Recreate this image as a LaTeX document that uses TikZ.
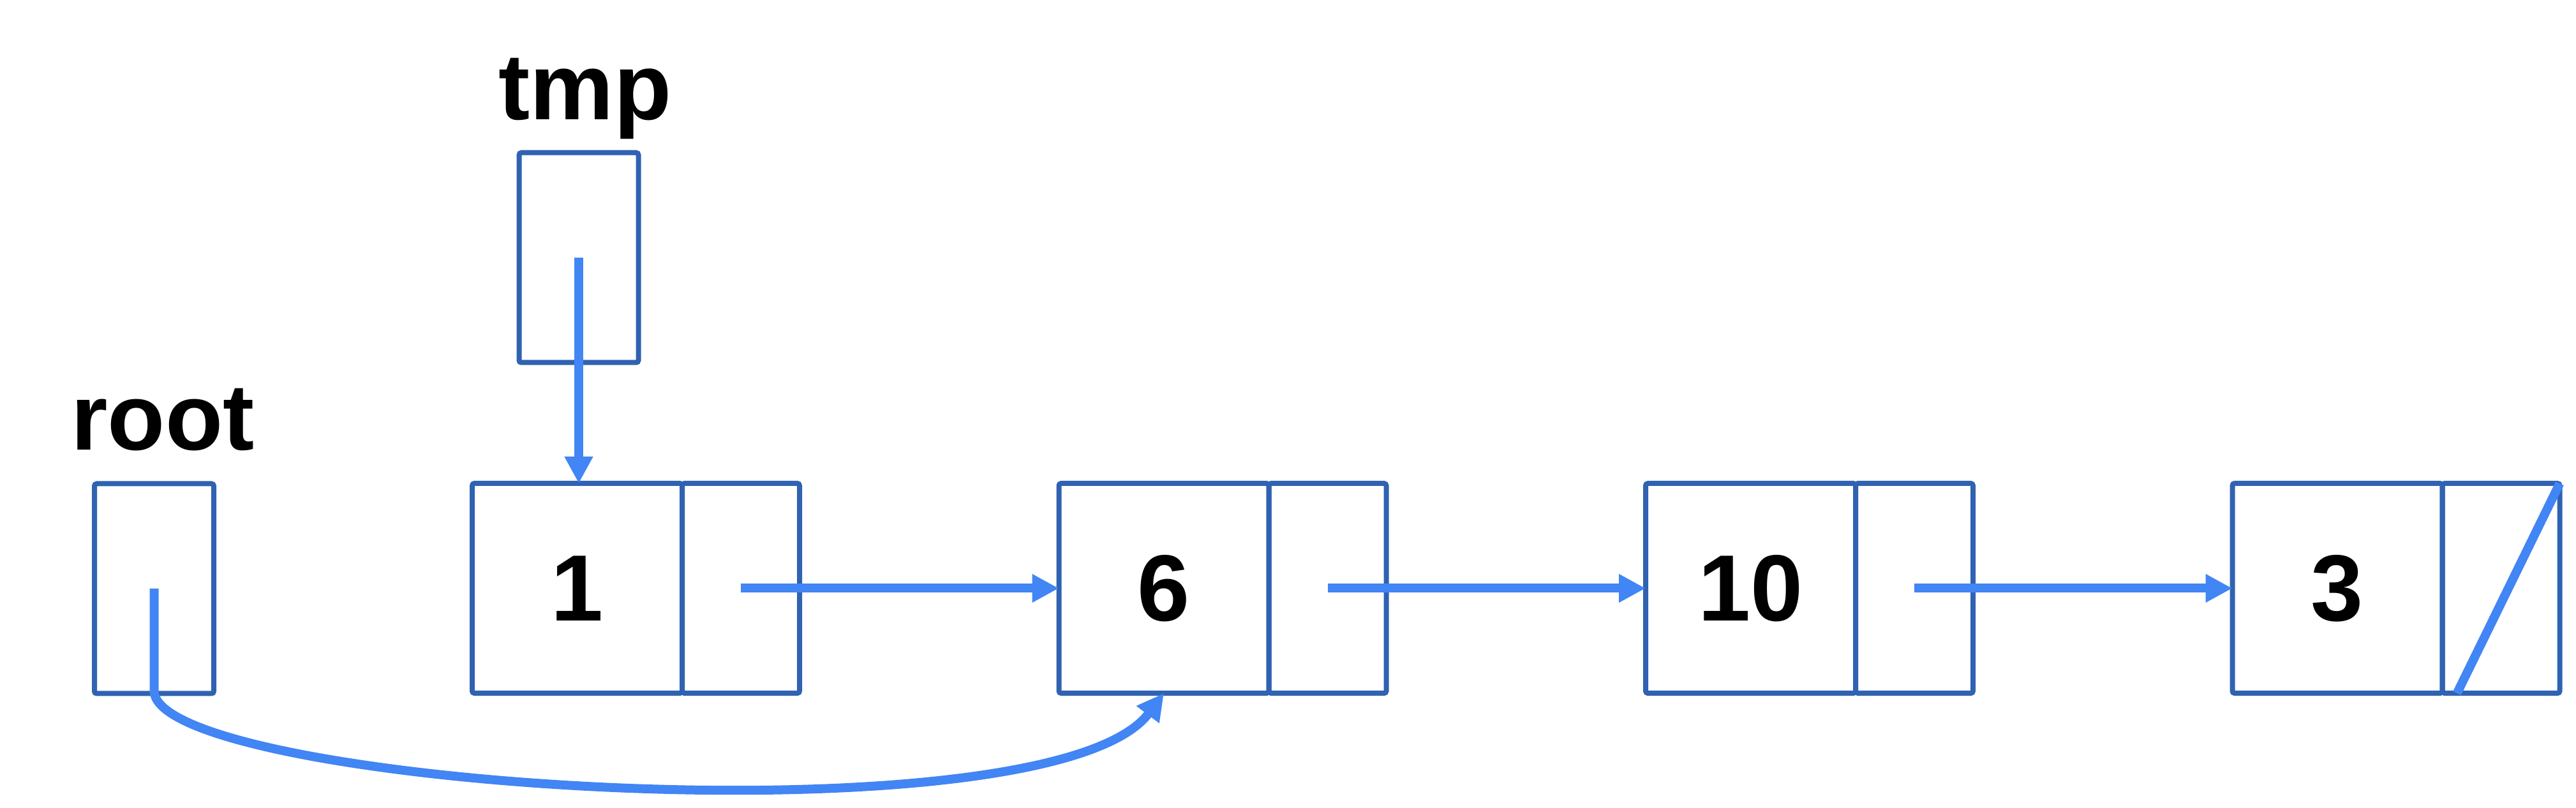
\documentclass[tikz,border=0pt]{standalone}
\usepackage{fontspec}
\setmainfont{Liberation Sans}
\usetikzlibrary{arrows.meta}
\definecolor{boxblue}{RGB}{48,98,178}
\definecolor{linkblue}{RGB}{66,133,244}

\begin{document}
\begin{tikzpicture}[
  every node/.style={font=\fontsize{42}{50}\selectfont\bfseries},
  cell/.style={draw=boxblue, line width=0.08cm, rounded corners=1pt, inner sep=0pt, outer sep=0pt, minimum height=3.29cm},
  datacell/.style={cell, minimum width=3.29cm},
  ptrcell/.style={cell, minimum width=1.84cm},
  varcell/.style={cell, minimum width=1.87cm},
  link/.style={draw=linkblue, line width=0.14cm, -{Triangle[length=0.42cm, width=0.42cm]}}]
\useasboundingbox (0,0) rectangle (40.37,12.67);
% variables
\node[varcell] (root) at (2.415,3.44) {};
\node[varcell] (tmp) at (9.07,8.63) {};
\node[anchor=base] (rootlbl) at (2.55,5.61) {root};
\node[anchor=base] (tmplbl) at (9.17,10.79) {tmp};
% list nodes
\node[datacell, anchor=west] (n1) at (7.40,3.445) {1};
\node[ptrcell, anchor=west] (p1) at (n1.east) {};
\node[datacell, anchor=west] (n6) at (16.595,3.445) {6};
\node[ptrcell, anchor=west] (p6) at (n6.east) {};
\node[datacell, anchor=west] (n10) at (25.79,3.445) {10};
\node[ptrcell, anchor=west] (p10) at (n10.east) {};
\node[datacell, anchor=west] (n3) at (34.985,3.445) {3};
\node[ptrcell, anchor=west] (p3) at (n3.east) {};
% links
\draw[link] (p1.center) -- (n6.west);
\draw[link] (p6.center) -- (n10.west);
\draw[link] (p10.center) -- (n3.west);
\draw[linkblue, line width=0.14cm] (p3.south west) ++(0.23,0) -- (p3.north east);
\draw[link] (tmp.center) -- (tmp.center |- n1.north);
\draw[link] (root.center) -- ++(0,-1.6) .. controls +(0,-1.5) and +(233:3) .. (n6.south);
\end{tikzpicture}
\end{document}
